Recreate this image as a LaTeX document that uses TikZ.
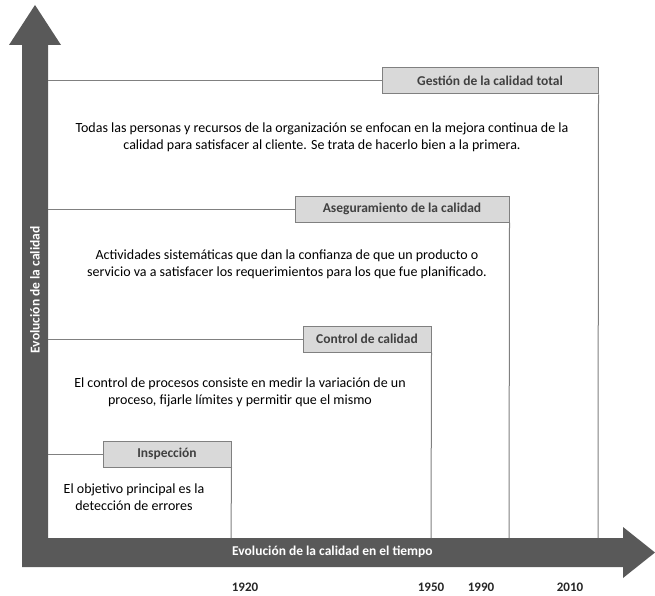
\documentclass[tikz,border=0pt]{standalone}
\usepackage{fontspec}
\setmainfont{Carlito}
\definecolor{bargray}{HTML}{595959}
\definecolor{linegray}{HTML}{808080}
\definecolor{boxgray}{HTML}{D9D9D9}
\definecolor{textgray}{HTML}{404040}
\begin{document}
\begin{tikzpicture}[x=1pt,y=-1pt,
  stage/.style={draw=linegray, fill=boxgray, line width=1pt, minimum height=26pt, inner sep=0pt,
    font=\bfseries\fontsize{13.5}{15}\selectfont, text=textgray},
  desc/.style={align=center, text=black, font=\fontsize{14}{17}\selectfont, inner sep=0pt},
  guide/.style={draw=linegray, line width=1pt},
  year/.style={font=\bfseries\fontsize{13}{15}\selectfont, text=black!85, inner sep=0pt}]
\useasboundingbox (0,0) rectangle (655,596);
% L-shaped double arrow
\fill[bargray] (22,567) -- (22,45) -- (9,45) -- (35,5) -- (61,45) -- (48,45) -- (48,538)
  -- (623,538) -- (623,527) -- (655,552.5) -- (623,578) -- (623,567) -- cycle;
\node[rotate=90, text=white, font=\bfseries\fontsize{13.5}{15}\selectfont, inner sep=0pt] (ylab) at (35,290) {Evolución de la calidad};
\node[text=white, font=\bfseries\fontsize{13.5}{15}\selectfont, inner sep=0pt, anchor=west] (xlab) at (232,552) {Evolución de la calidad en el tiempo};
% stage boxes
\node[stage, minimum width=216pt] (g) at (490,81) {Gestión de la calidad total};
\node[stage, minimum width=214pt] (a) at (402,209) {Aseguramiento de la calidad};
\node[stage, minimum width=128pt] (c) at (367,339) {Control de calidad};
\node[stage, minimum width=128pt] (i) at (167,454) {Inspección};
% guide lines
\coordinate (gl) at (48,81);
\coordinate (al) at (48,209);
\coordinate (cl) at (48,339);
\coordinate (il) at (48,454);
\coordinate (g0) at (598,538);
\coordinate (a0) at (509,538);
\coordinate (c0) at (431,538);
\coordinate (i0) at (231,538);
\draw[guide] (gl) -- (g.west);
\draw[guide] (al) -- (a.west);
\draw[guide] (cl) -- (c.west);
\draw[guide] (il) -- (i.west);
\draw[guide] (g.south east) -- (g0);
\draw[guide] (a.south east) -- (a0);
\draw[guide] (c.south east) -- (c0);
\draw[guide] (i.south east) -- (i0);
% descriptions
\node[desc] (gd) at (322,137.5) {Todas las personas y recursos de la organización se enfocan en la mejora continua de la\\calidad para satisfacer al cliente. Se trata de hacerlo bien a la primera.};
\node[desc] (ad) at (287,264.5) {Actividades sistemáticas que dan la confianza de que un producto o\\servicio va a satisfacer los requerimientos para los que fue planificado.};
\node[desc] (cd) at (240,392.5) {El control de procesos consiste en medir la variación de un\\proceso, fijarle límites y permitir que el mismo};
\node[desc] (id) at (134,497.5) {El objetivo principal es la\\detección de errores};
% years
\node[year] (y1) at (245,587) {1920};
\node[year] (y2) at (431,587) {1950};
\node[year] (y3) at (481,587) {1990};
\node[year] (y4) at (570,587) {2010};
\end{tikzpicture}
\end{document}
